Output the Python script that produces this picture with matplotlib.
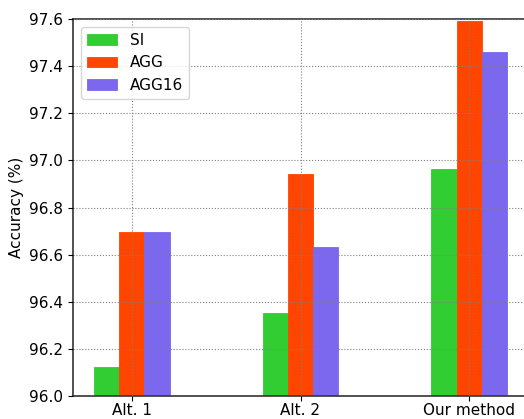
import matplotlib
matplotlib.use("Agg")
import matplotlib.pyplot as plt
import numpy as np

categories = ["Alt. 1", "Alt. 2", "Our method"]
si = [96.124, 96.354, 96.962]
agg = [96.695, 96.942, 97.592]
agg16 = [96.695, 96.634, 97.461]
series_names = ["SI", "AGG", "AGG16"]
colors = ["#32CD32", "#FF4500", "#7B68EE"]
yticks = [96.0, 96.2, 96.4, 96.6, 96.8, 97.0, 97.2, 97.4, 97.6]

fig = plt.figure(figsize=(5.24, 4.19), dpi=100)
ax = fig.add_axes([73/524, 23/419, 455/524, 377/419])

x = np.arange(len(categories))
w = 0.15
for i, (vals, name, c) in enumerate(zip([si, agg, agg16], series_names, colors)):
    ax.bar(x + (i - 1) * w, vals, w, color=c, label=name, zorder=1,
           edgecolor=c, linewidth=0.6)

ax.set_ylim(96.0, 97.6)
ax.set_yticks(yticks)
ax.set_yticklabels([f"{v:.1f}" for v in yticks], fontsize=11)
ax.set_xticks(x)
ax.set_xticklabels(categories, fontsize=11)
ax.tick_params(axis="x", pad=1.5)
ax.set_xlim(-0.3475, 2.3475)
ax.set_ylabel("Accuracy (%)", fontsize=11)
ax.grid(True, linestyle=":", color="gray", linewidth=0.8, zorder=3)
ax.set_axisbelow(False)
ax.spines["right"].set_visible(False)
for s in ["left", "bottom", "top"]:
    ax.spines[s].set_color("#333333")
    ax.spines[s].set_linewidth(1.2)
ax.legend(loc="upper left", fontsize=11)

fig.savefig("out.png", dpi=100)
